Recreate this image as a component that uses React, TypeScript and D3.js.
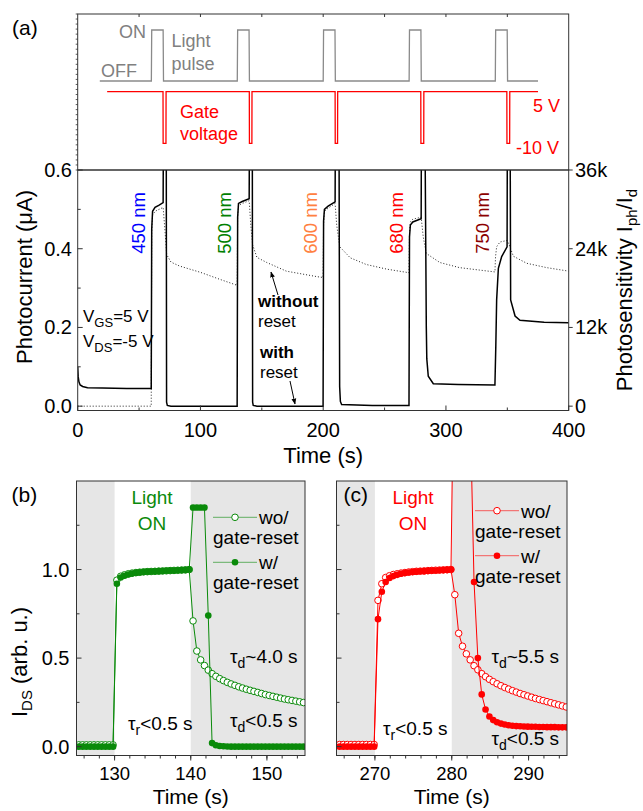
import React from 'react';
import * as d3 from 'd3';

const FONT = "'Liberation Sans', Arial, Helvetica, sans-serif";

// ---------- (a) excitation signals (time s, level)
const lightPulse: [number, number][] = [
  [18, 0], [60, 0], [60.3, 1], [69.6, 1], [69.9, 0],
  [130, 0], [130.3, 1], [139.6, 1], [139.9, 0],
  [200, 0], [200.3, 1], [209.6, 1], [209.9, 0],
  [270, 0], [270.3, 1], [279.6, 1], [279.9, 0],
  [340.2, 0], [340.5, 1], [349.9, 1], [350.2, 0], [375, 0],
];
const gateVoltage: [number, number][] = [
  [24, 5], [69.5, 5], [69.6, -10], [71.9, -10], [72, 5],
  [139.8, 5], [139.9, -10], [141.9, -10], [142, 5],
  [209.7, 5], [209.8, -10], [211.7, -10], [211.8, 5],
  [279.5, 5], [279.6, -10], [281.9, -10], [282, 5],
  [349.6, 5], [349.7, -10], [351.9, -10], [352, 5], [375, 5],
];

// ---------- (a) photocurrent (time s, µA)
const withReset: [number, number][] = [
  [0, 0.1], [0.4, 0.075], [1, 0.062], [2, 0.054], [4, 0.05], [8, 0.047], [20, 0.046], [40, 0.045],
  [59.9, 0.045], [60.3, 0.45], [61, 0.495], [63, 0.505], [66, 0.51], [69.6, 0.517],
  [69.9, 0.8], [72.1, 0.8], [72.4, 0.01], [73, 0.002], [76, 0], [100, 0],
  [129.9, 0], [130.3, 0.48], [131, 0.515], [134, 0.52], [139.7, 0.527],
  [140, 0.8], [142.2, 0.8], [142.5, 0.01], [143, 0.002], [146, 0], [170, 0],
  [199.9, 0], [200.3, 0.47], [201, 0.5], [204, 0.508], [209.7, 0.519],
  [210, 0.8], [212.8, 0.8], [213.4, 0.05], [214, 0.012], [215, 0.004], [240, 0.002],
  [269.9, 0.002], [270.3, 0.43], [271, 0.46], [273, 0.468], [279.8, 0.476],
  [280.1, 0.8], [282.7, 0.8], [284, 0.2], [284.4, 0.12], [285.6, 0.076], [289.7, 0.057], [310, 0.055],
  [339.9, 0.054], [340.6, 0.15], [341.3, 0.27], [342.7, 0.35], [345.4, 0.38], [349.8, 0.405],
  [350.1, 0.8], [352.2, 0.8], [352.7, 0.27], [356.3, 0.229], [360.3, 0.218], [380, 0.213], [400, 0.212],
];
const withoutReset: [number, number][] = [
  [0, 0], [59.9, 0], [60.3, 0.44], [61, 0.485], [63, 0.495], [69.6, 0.505],
  [71, 0.45], [72.5, 0.385], [76, 0.366], [83, 0.356], [100, 0.34], [116, 0.322], [129.9, 0.307],
  [130.3, 0.48], [131, 0.51], [134, 0.515], [139.7, 0.522],
  [141, 0.46], [142.5, 0.41], [146, 0.378], [154, 0.365], [170, 0.343], [195, 0.329], [199.9, 0.327],
  [200.3, 0.46], [201, 0.495], [204, 0.503], [209.7, 0.515],
  [211, 0.46], [213.5, 0.405], [222, 0.377], [235, 0.36], [252, 0.348], [269.9, 0.339],
  [270.3, 0.44], [271, 0.468], [273, 0.475], [279.8, 0.48],
  [281.5, 0.43], [284, 0.388], [295, 0.365], [311, 0.352], [339.9, 0.341],
  [340.4, 0.38], [341.3, 0.405], [344, 0.417], [349.8, 0.421],
  [351.5, 0.41], [354.9, 0.381], [365.8, 0.363], [382, 0.352], [400, 0.343],
];

const wavelengths = ['450 nm', '500 nm', '600 nm', '680 nm', '750 nm'];
const waveColors = ['#0000ff', '#008000', '#ff8040', '#ff0000', '#8b0000'];
const pulseOn = [60, 130, 200, 270, 340];

// ---------- (b) 500 nm zoom
const bTime = [
  125.3, 125.8, 126.3, 126.8, 127.3, 127.8, 128.3, 128.8, 129.3, 129.8,
  130.3, 130.8, 131.3, 131.8, 132.3, 132.8, 133.3, 133.8, 134.3, 134.8,
  135.3, 135.8, 136.3, 136.8, 137.3, 137.8, 138.3, 138.8, 139.3, 139.8,
  140.3, 140.8, 141.3, 141.8, 142.3, 142.8, 143.3, 143.8, 144.3, 144.8,
  145.3, 145.8, 146.3, 146.8, 147.3, 147.8, 148.3, 148.8, 149.3, 149.8,
  150.3, 150.8, 151.3, 151.8, 152.3, 152.8, 153.3, 153.8, 154.3, 154.8,
];
const bWith = [
  0, 0, 0, 0, 0, 0, 0, 0, 0, 0,
  0.92, 0.955, 0.965, 0.972, 0.977, 0.981, 0.984, 0.986, 0.988, 0.989,
  0.99, 0.991, 0.992, 0.993, 0.994, 0.995, 0.996, 0.997, 0.998, 1.0,
  1.35, 1.35, 1.35, 1.35, 0.74, 0.02, 0.008, 0.004, 0.002, 0.001,
  0, 0, 0, 0, 0, 0, 0, 0, 0, 0,
  0, 0, 0, 0, 0, 0, 0, 0, 0, 0,
];
const bWithout = [
  0.01, 0.01, 0.01, 0.01, 0.01, 0.01, 0.01, 0.01, 0.01, 0.01,
  0.94, 0.962, 0.97, 0.976, 0.98, 0.983, 0.985, 0.987, 0.988, 0.989,
  0.99, 0.991, 0.992, 0.993, 0.994, 0.995, 0.996, 0.997, 0.998, 1.0,
  0.71, 0.54, 0.49, 0.458, 0.432, 0.412, 0.397, 0.384, 0.373, 0.363,
  0.354, 0.346, 0.338, 0.331, 0.324, 0.318, 0.312, 0.306, 0.3, 0.294,
  0.289, 0.284, 0.279, 0.274, 0.269, 0.265, 0.261, 0.257, 0.253, 0.249,
];

// ---------- (c) 680 nm zoom
const cTime = [
  265.4, 265.9, 266.4, 266.9, 267.4, 267.9, 268.4, 268.9, 269.4, 269.9,
  270.4, 270.9, 271.4, 271.9, 272.4, 272.9, 273.4, 273.9, 274.4, 274.9,
  275.4, 275.9, 276.4, 276.9, 277.4, 277.9, 278.4, 278.9, 279.4, 279.9,
  280.4, 280.9, 281.4, 281.9, 282.4, 282.9, 283.4, 283.9, 284.4, 284.9,
  285.4, 285.9, 286.4, 286.9, 287.4, 287.9, 288.4, 288.9, 289.4, 289.9,
  290.4, 290.9, 291.4, 291.9, 292.4, 292.9, 293.4, 293.9, 294.4, 294.9,
];
const cWith = [
  0, 0, 0, 0, 0, 0, 0, 0, 0, 0,
  0.72, 0.875, 0.93, 0.952, 0.963, 0.97, 0.976, 0.98, 0.983, 0.986,
  0.988, 0.99, 0.991, 0.992, 0.994, 0.995, 0.996, 0.997, 0.998, 1.0,
  2.6, 2.6, 2.6, 2.6, 1.9, 0.93, 0.5, 0.295, 0.21, 0.17,
  0.15, 0.138, 0.13, 0.125, 0.121, 0.118, 0.116, 0.115, 0.114, 0.113,
  0.112, 0.112, 0.111, 0.111, 0.11, 0.11, 0.11, 0.109, 0.109, 0.109,
];
const cWithout = [
  0.012, 0.012, 0.012, 0.012, 0.012, 0.012, 0.012, 0.012, 0.012, 0.012,
  0.826, 0.92, 0.955, 0.965, 0.972, 0.976, 0.98, 0.983, 0.986, 0.988,
  0.99, 0.991, 0.992, 0.994, 0.995, 0.996, 0.997, 0.998, 0.999, 1.0,
  0.858, 0.64, 0.567, 0.524, 0.49, 0.457, 0.434, 0.412, 0.395, 0.38,
  0.367, 0.355, 0.344, 0.334, 0.325, 0.316, 0.308, 0.3, 0.293, 0.286,
  0.279, 0.272, 0.266, 0.26, 0.254, 0.248, 0.242, 0.236, 0.23, 0.224,
];

const AX = '#333';
const GREEN = '#0a8a0a';
const RED = '#ff0000';
const SHADE = '#e6e6e6';

type Box = { left: number; right: number; top: number; bottom: number };

function Zoomed({ id, box, xDomain, lightOn, time, wData, woData, color, label, tau, legendY, showYLabels }: {
  id: string; box: Box; xDomain: [number, number]; lightOn: [number, number]; time: number[];
  wData: number[]; woData: number[]; color: string; label: string; tau: { d1: string; pos: number[] };
  legendY: number; showYLabels: boolean;
}) {
  const x = d3.scaleLinear(xDomain, [box.left, box.right]);
  const y = d3.scaleLinear([-0.05, 1.5], [box.bottom, box.top]);
  const line = d3.line<number>().x((_, i) => x(time[i])).y(d => y(d));
  const majorX = d3.range(Math.ceil(xDomain[0] / 10) * 10, xDomain[1] + 0.01, 10);
  const minorX = d3.range(Math.ceil(xDomain[0] / 2) * 2, xDomain[1] + 0.01, 2);
  const majorY = [0, 0.5, 1.0];
  const minorY = [0.25, 0.75, 1.25];
  const [tx, tyd1, tyd2, trx, trY, lx] = tau.pos;
  return (
    <g>
      <defs>
        <clipPath id={id}>
          <rect x={box.left} y={box.top} width={box.right - box.left} height={box.bottom - box.top} />
        </clipPath>
      </defs>
      <rect x={box.left} y={box.top} width={x(lightOn[0]) - box.left} height={box.bottom - box.top} fill={SHADE} />
      <rect x={x(lightOn[1])} y={box.top} width={box.right - x(lightOn[1])} height={box.bottom - box.top} fill={SHADE} />
      <g clipPath={`url(#${id})`}>
        <path d={line(woData) || ''} fill="none" stroke={color} strokeWidth={1} />
        {woData.map((d, i) => (
          <circle key={'o' + i} cx={x(time[i])} cy={y(d)} r={3.3} fill="#fff" stroke={color} strokeWidth={1} />
        ))}
        <path d={line(wData) || ''} fill="none" stroke={color} strokeWidth={1} />
        {wData.map((d, i) => (
          <circle key={'f' + i} cx={x(time[i])} cy={y(d)} r={3.3} fill={color} />
        ))}
      </g>
      <rect x={box.left} y={box.top} width={box.right - box.left} height={box.bottom - box.top} fill="none" stroke={AX} strokeWidth={1} />
      {majorY.map(v => <line key={'my' + v} x1={box.left} x2={box.left + 5} y1={y(v)} y2={y(v)} stroke={AX} />)}
      {minorY.map(v => <line key={'ny' + v} x1={box.left} x2={box.left + 3} y1={y(v)} y2={y(v)} stroke={AX} />)}
      {minorX.map(v => <line key={'nx' + v} x1={x(v)} x2={x(v)} y1={box.bottom} y2={box.bottom + 3} stroke={AX} />)}
      {majorX.map(v => <line key={'mx' + v} x1={x(v)} x2={x(v)} y1={box.bottom} y2={box.bottom + 5} stroke={AX} />)}
      {majorX.map(v => (
        <text key={'lx' + v} x={x(v)} y={780} fontSize={18.5} textAnchor="middle">{v}</text>
      ))}
      {showYLabels && majorY.map(v => (
        <text key={'ly' + v} x={box.left - 7} y={y(v)} dy="0.35em" fontSize={20} textAnchor="end">{d3.format('.1f')(v)}</text>
      ))}
      <text x={(box.left + box.right) / 2} y={804} fontSize={21} textAnchor="middle">Time (s)</text>
      <text x={box.left + (id === 'clipB' ? -65 : 7)} y={502} fontSize={21}>{label}</text>
      <text x={lx} y={504} fontSize={19} fill={color} textAnchor="middle">Light</text>
      <text x={lx} y={530} fontSize={19} fill={color} textAnchor="middle">ON</text>
      {/* legend */}
      <line x1={box.right - 92} x2={box.right - 48} y1={legendY} y2={legendY} stroke={color} strokeOpacity={0.6} />
      <circle cx={box.right - 70} cy={legendY} r={3.3} fill="#fff" stroke={color} />
      <text x={box.right - 46} y={legendY + 7} fontSize={19}>wo/</text>
      <text x={box.right - 92} y={legendY + 27} fontSize={19}>gate-reset</text>
      <line x1={box.right - 92} x2={box.right - 48} y1={legendY + 45} y2={legendY + 45} stroke={color} strokeOpacity={0.6} />
      <circle cx={box.right - 70} cy={legendY + 45} r={3.3} fill={color} />
      <text x={box.right - 46} y={legendY + 52} fontSize={19}>w/</text>
      <text x={box.right - 92} y={legendY + 72} fontSize={19}>gate-reset</text>
      {/* time constants */}
      <text x={tx} y={tyd1} fontSize={19}>τ<tspan dy={5} fontSize={14}>d</tspan><tspan dy={-5}>{tau.d1}</tspan></text>
      <text x={tx} y={tyd2} fontSize={19}>τ<tspan dy={5} fontSize={14}>d</tspan><tspan dy={-5}>&lt;0.5 s</tspan></text>
      <text x={trx} y={trY} fontSize={19}>τ<tspan dy={5} fontSize={14}>r</tspan><tspan dy={-5}>&lt;0.5 s</tspan></text>
    </g>
  );
}

export default function App() {
  const A: Box = { left: 77.7, right: 568.7, top: 170, bottom: 410.5 };
  const sigTop = 14;
  const xA = d3.scaleLinear([0, 400], [A.left, A.right]);
  const yA = d3.scaleLinear([-0.011, 0.6], [A.bottom, A.top]);
  const yR = d3.scaleLinear([-660, 36000], [A.bottom, A.top]);
  const yLight = d3.scaleLinear([0, 1], [81, 30]);
  const yGate = d3.scaleLinear([-10, 5], [143.3, 91.7]);
  const ySigTicks = d3.scaleLinear([0, 31], [A.top, sigTop]);

  const lineA = d3.line<[number, number]>().x(d => xA(d[0])).y(d => yA(d[1]));
  const lightLine = d3.line<[number, number]>().x(d => xA(d[0])).y(d => yLight(d[1]));
  const gateLine = d3.line<[number, number]>().x(d => xA(d[0])).y(d => yGate(d[1]));

  const B: Box = { left: 76.5, right: 305, top: 481, bottom: 755.5 };
  const C: Box = { left: 336.5, right: 567, top: 481, bottom: 755.5 };

  return (
    <svg width={643} height={811} style={{ position: 'absolute', left: 0, top: 0, background: '#fff' }} fontFamily={FONT}>
      <defs>
        <clipPath id="clipA">
          <rect x={A.left} y={A.top} width={A.right - A.left} height={A.bottom - A.top} />
        </clipPath>
        <marker id="arrow" viewBox="0 0 10 10" refX="9" refY="5" markerWidth="6" markerHeight="7" orient="auto">
          <path d="M0,1 L10,5 L0,9 Z" fill="#000" />
        </marker>
      </defs>

      {/* ---------- (a) top signals ---------- */}
      <text x={12} y={35} fontSize={21}>(a)</text>
      <rect x={A.left} y={sigTop} width={A.right - A.left} height={A.top - sigTop} fill="none" stroke={AX} />
      {ySigTicks.ticks(31).map(v => (
        <line key={'st' + v} x1={A.left - 2} x2={A.left} y1={ySigTicks(v)} y2={ySigTicks(v)} stroke={AX} strokeWidth={0.8} />
      ))}
      {d3.range(50, 400, 50).map(v => (
        <line key={'tt' + v} x1={xA(v)} x2={xA(v)} y1={sigTop} y2={sigTop + 3} stroke={AX} />
      ))}
      <path d={lightLine(lightPulse) || ''} fill="none" stroke="#8a8a8a" strokeWidth={1.3} />
      <path d={gateLine(gateVoltage) || ''} fill="none" stroke={RED} strokeWidth={1.3} />
      <g fontSize={18} fill="#808080">
        <text x={119} y={38}>ON</text>
        <text x={101} y={77}>OFF</text>
        <text x={171.5} y={47}>Light</text>
        <text x={171.5} y={69.5}>pulse</text>
      </g>
      <g fontSize={18} fill={RED}>
        <text x={180} y={118}>Gate</text>
        <text x={180} y={140}>voltage</text>
        <text x={533} y={111.5}>5 V</text>
        <text x={516} y={154}>-10 V</text>
      </g>

      {/* ---------- (a) photocurrent ---------- */}
      <g clipPath="url(#clipA)">
        <path d={lineA(withoutReset) || ''} fill="none" stroke="#222" strokeWidth={1} strokeDasharray="1 2" />
        <path d={lineA(withReset) || ''} fill="none" stroke="#000" strokeWidth={1.5} />
      </g>
      <rect x={A.left} y={A.top} width={A.right - A.left} height={A.bottom - A.top} fill="none" stroke={AX} />
      {[0, 0.2, 0.4, 0.6].map(v => (
        <g key={'ay' + v}>
          <line x1={A.left} x2={A.left + 5} y1={yA(v)} y2={yA(v)} stroke={AX} />
          <text x={72} y={yA(v)} dy="0.35em" fontSize={20} textAnchor="end">{d3.format('.1f')(v)}</text>
        </g>
      ))}
      {[0.1, 0.3, 0.5].map(v => (
        <line key={'ay2' + v} x1={A.left} x2={A.left + 3} y1={yA(v)} y2={yA(v)} stroke={AX} />
      ))}
      {[0, 12000, 24000, 36000].map(v => (
        <g key={'ar' + v}>
          <line x1={A.right} x2={A.right + 4} y1={yR(v)} y2={yR(v)} stroke={AX} />
          <text x={575} y={yR(v)} dy="0.35em" fontSize={20}>{v === 0 ? '0' : v / 1000 + 'k'}</text>
        </g>
      ))}
      {d3.range(0, 401, 100).map(v => (
        <g key={'ax' + v}>
          <line x1={xA(v)} x2={xA(v)} y1={A.bottom} y2={A.bottom - 5} stroke={AX} />
          <text x={xA(v)} y={436.5} fontSize={20} textAnchor="middle">{v}</text>
        </g>
      ))}
      {d3.range(50, 400, 100).map(v => (
        <line key={'ax2' + v} x1={xA(v)} x2={xA(v)} y1={A.bottom} y2={A.bottom - 3} stroke={AX} />
      ))}
      <text x={(A.left + A.right) / 2} y={463} fontSize={22} textAnchor="middle">Time (s)</text>
      <text transform="translate(32,277) rotate(-90)" fontSize={22} textAnchor="middle">Photocurrent (μA)</text>
      <text transform="translate(632,290) rotate(-90)" fontSize={22} textAnchor="middle">
        Photosensitivity I<tspan dy={5} fontSize={15}>ph</tspan><tspan dy={-5}>/I</tspan><tspan dy={5} fontSize={15}>d</tspan>
      </text>

      {wavelengths.map((w, i) => (
        <text key={w} transform={`translate(${xA(pulseOn[i]) - 6},223) rotate(-90)`} fontSize={18.5}
          fill={waveColors[i]} textAnchor="middle">{w}</text>
      ))}

      <g fontSize={17}>
        <text x={83} y={321.5}>V<tspan dy={5} fontSize={13}>GS</tspan><tspan dy={-5}>=5 V</tspan></text>
        <text x={83} y={346.5}>V<tspan dy={5} fontSize={13}>DS</tspan><tspan dy={-5}>=-5 V</tspan></text>
        <text x={258} y={307} fontWeight="bold">without</text>
        <text x={258} y={326.5}>reset</text>
        <text x={260} y={358} fontWeight="bold">with</text>
        <text x={260} y={378}>reset</text>
      </g>
      <line x1={278} y1={295} x2={271} y2={272} stroke="#000" strokeWidth={1} markerEnd="url(#arrow)" />
      <line x1={290} y1={381} x2={295} y2={404} stroke="#000" strokeWidth={1} markerEnd="url(#arrow)" />

      {/* ---------- (b) and (c) ---------- */}
      <Zoomed id="clipB" box={B} xDomain={[125, 155]} lightOn={[130, 140]} time={bTime}
        wData={bWith} woData={bWithout} color={GREEN} label="(b)"
        tau={{ d1: '~4.0 s', pos: [230, 662.5, 726.5, 128, 730, 152] }} legendY={517.3} showYLabels={true} />
      <Zoomed id="clipC" box={C} xDomain={[265, 295]} lightOn={[270, 280]} time={cTime}
        wData={cWith} woData={cWithout} color={RED} label="(c)"
        tau={{ d1: '~5.5 s', pos: [491.5, 662.5, 745, 383, 735, 413] }} legendY={510.7} showYLabels={false} />
      <text transform="translate(27,662) rotate(-90)" fontSize={22} textAnchor="middle">
        I<tspan dy={5} fontSize={15}>DS</tspan><tspan dy={-5}> (arb. u.)</tspan>
      </text>
    </svg>
  );
}
